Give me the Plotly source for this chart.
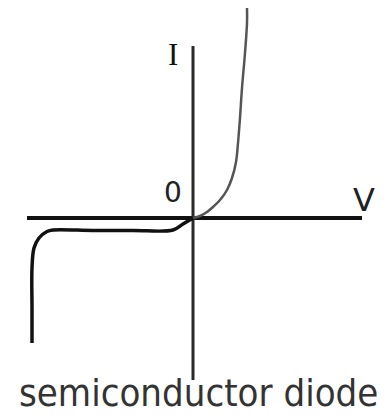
import plotly.graph_objects as go

# axis extents (V, I units; 1 unit ~ 10 px)
axis_v = [-16.6, 16.9]
axis_i = [17.2, -16.2]

# forward branch of diode curve
fwd_v = [0.0, 0.7, 1.4, 2.0, 2.7, 3.4, 3.9, 4.3, 4.5, 4.7, 4.9, 5.2, 5.4, 5.4]
fwd_i = [0.0, 0.2, 0.6, 1.1, 1.8, 2.8, 4.0, 5.6, 7.5, 10.0, 13.0, 16.5, 19.5, 21.0]

# reverse branch (leakage then breakdown)
rev_v = [0.0, -1.0, -2.0, -6.0, -10.0, -14.0, -14.6, -15.4, -15.9, -16.1, -16.1, -16.1]
rev_i = [0.0, -0.6, -1.2, -1.25, -1.25, -1.2, -1.35, -2.0, -3.0, -5.0, -9.0, -12.5]

fig = go.Figure()
fig.add_trace(go.Scatter(x=axis_v, y=[0, 0], mode="lines",
                         line=dict(color="#111", width=4), hoverinfo="skip"))
fig.add_trace(go.Scatter(x=[0, 0], y=axis_i, mode="lines",
                         line=dict(color="#2a2a2a", width=3), hoverinfo="skip"))
fig.add_trace(go.Scatter(x=fwd_v, y=fwd_i, mode="lines", line_shape="spline",
                         line=dict(color="#555", width=2.5), hoverinfo="skip"))
fig.add_trace(go.Scatter(x=rev_v, y=rev_i, mode="lines", line_shape="spline",
                         line=dict(color="#111", width=3.5), hoverinfo="skip"))

ann = [
    dict(x=-2.0, y=16.4, text="I", font=dict(family="Liberation Serif", size=31, color="#111"),
         xanchor="center", yanchor="middle"),
    dict(x=-2.0, y=2.6, text="0", font=dict(family="DejaVu Sans", size=28, color="#222"),
         xanchor="center", yanchor="middle"),
    dict(x=17.1, y=1.8, text="V", font=dict(family="DejaVu Sans", size=32, color="#222"),
         xanchor="center", yanchor="middle"),
    dict(x=0.5, y=-17.5, text="semiconductor diode",
         font=dict(family="DejaVu Sans Condensed", size=38, color="#333"),
         xanchor="center", yanchor="middle"),
]
for a in ann:
    a.update(showarrow=False, xref="x", yref="y")

# page body has an 8px margin, so the figure is 8px smaller and shifted
fig.update_layout(
    width=377, height=407,
    margin=dict(l=0, r=0, t=0, b=0),
    paper_bgcolor="white", plot_bgcolor="white",
    showlegend=False,
    annotations=ann,
    xaxis=dict(range=[-18.5, 19.2], visible=False, fixedrange=True),
    yaxis=dict(range=[-19.7, 21.0], visible=False, fixedrange=True),
)
fig.write_html("out.html", config={"displayModeBar": False})
